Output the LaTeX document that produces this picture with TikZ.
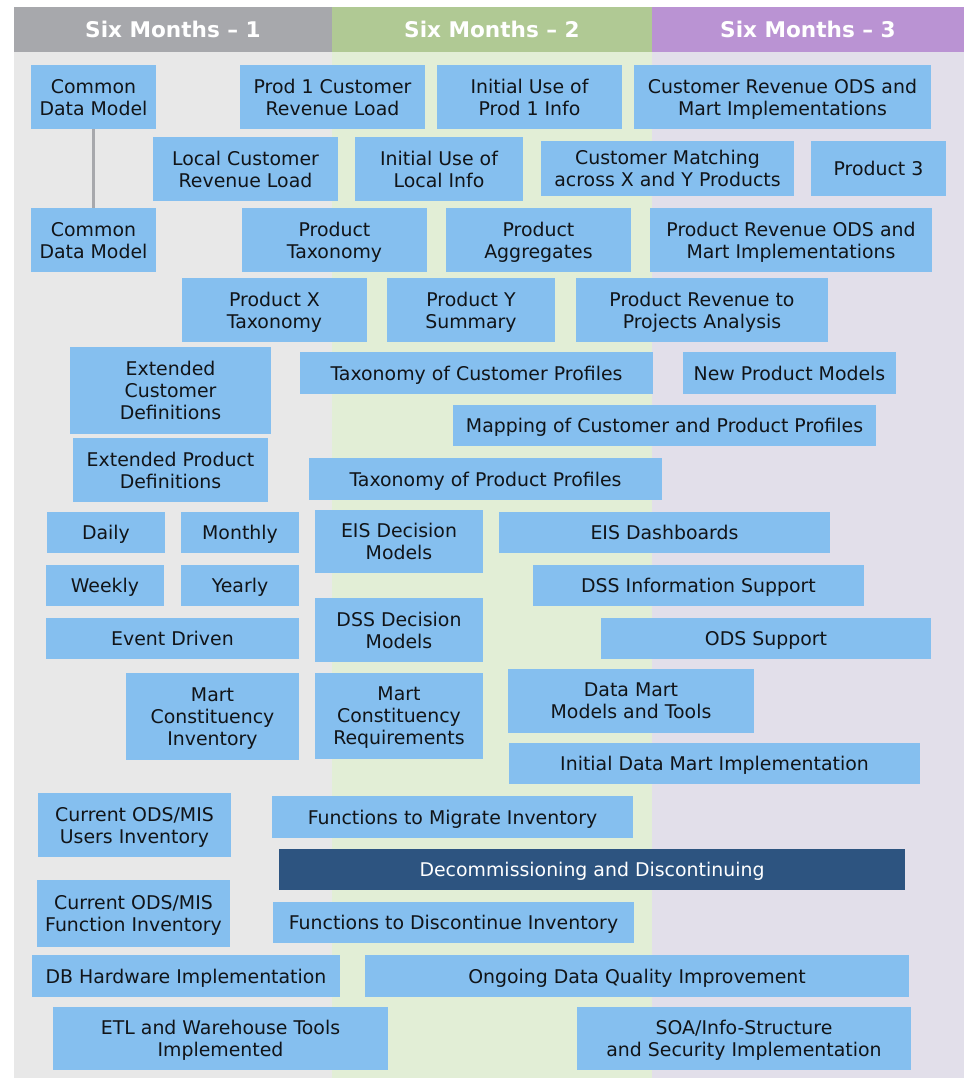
\documentclass[tikz,border=0pt]{standalone}
\usepackage{fontspec}
\setmainfont{DejaVu Sans}
\definecolor{hdrgray}{HTML}{A7A8AC}
\definecolor{hdrgreen}{HTML}{B0C994}
\definecolor{hdrpurple}{HTML}{BA93D3}
\definecolor{bggray}{HTML}{E8E8E8}
\definecolor{bggreen}{HTML}{E2EED6}
\definecolor{bgpurple}{HTML}{E2DFEA}
\definecolor{boxblue}{HTML}{85BFEF}
\definecolor{boxdark}{HTML}{2D5480}
\definecolor{textdark}{HTML}{111418}
\definecolor{linkgray}{HTML}{A7A8AC}
\tikzset{
  box/.style={fill=boxblue, text=textdark, draw=none, inner sep=0pt, outer sep=0pt,
    align=center, text depth=0pt, font=\fontsize{18.9}{22}\selectfont},
  darkbox/.style={box, fill=boxdark, text=white},
  header/.style={draw=none, inner sep=0pt, outer sep=0pt, text=white,
    font=\fontsize{21.6}{25}\selectfont\bfseries},
  link/.style={draw=linkgray, line width=3pt}
}
% box from its corners: name, x1, y1, x2, y2, style, text
\newcommand\taskbox[7]{%
  \node[#6, minimum width={(#4-#2)*1pt}, minimum height={(#5-#3)*1pt}]
    (#1) at ({(#2+#4)/2},{(#3+#5)/2}) {#7};}
\begin{document}
\begin{tikzpicture}[x=1pt,y=-1pt]
\useasboundingbox (0,0) rectangle (964,1079);

% column backgrounds
\fill[bggray]   (14,52)  rectangle (332,1078);
\fill[bggreen]  (332,52) rectangle (652,1078);
\fill[bgpurple] (652,52) rectangle (964,1078);

% column headers
\taskbox{h1}{14}{7}{332}{52}{header, fill=hdrgray}{Six Months -- 1}
\taskbox{h2}{332}{7}{652}{52}{header, fill=hdrgreen}{Six Months -- 2}
\taskbox{h3}{652}{7}{964}{52}{header, fill=hdrpurple}{Six Months -- 3}

% tasks
\taskbox{cdma}{31}{65}{156}{129}{box}{Common\\Data Model}
\taskbox{prodload}{240}{65}{425}{129}{box}{Prod 1 Customer\\Revenue Load}
\taskbox{produse}{437}{65}{622}{129}{box}{Initial Use of\\Prod 1 Info}
\taskbox{custods}{634}{65}{931}{129}{box}{Customer Revenue ODS and\\Mart Implementations}

\taskbox{localload}{153}{137}{338}{201}{box}{Local Customer\\Revenue Load}
\taskbox{localuse}{355}{137}{523}{201}{box}{Initial Use of\\Local Info}
\taskbox{custmatch}{541}{141}{794}{196}{box}{Customer Matching\\across X and Y Products}
\taskbox{prod3}{811}{141}{946}{196}{box}{Product 3}

\taskbox{cdmb}{31}{208}{156}{272}{box}{Common\\Data Model}
\taskbox{prodtax}{242}{208}{427}{272}{box}{Product\\Taxonomy}
\taskbox{prodagg}{446}{208}{631}{272}{box}{Product\\Aggregates}
\taskbox{prodods}{650}{208}{932}{272}{box}{Product Revenue ODS and\\Mart Implementations}

\taskbox{prodx}{182}{278}{367}{342}{box}{Product X\\Taxonomy}
\taskbox{prody}{387}{278}{555}{342}{box}{Product Y\\Summary}
\taskbox{prodproj}{576}{278}{828}{342}{box}{Product Revenue to\\Projects Analysis}

\taskbox{extcust}{70}{347}{271}{434}{box}{Extended\\Customer\\Definitions}
\taskbox{custprof}{300}{352}{653}{394}{box}{Taxonomy of Customer Profiles}
\taskbox{newmodels}{683}{352}{896}{394}{box}{New Product Models}
\taskbox{mapping}{453}{405}{876}{446}{box}{Mapping of Customer and Product Profiles}
\taskbox{extprod}{73}{438}{268}{502}{box}{Extended Product\\Definitions}
\taskbox{prodprof}{309}{458}{662}{500}{box}{Taxonomy of Product Profiles}

\taskbox{daily}{47}{512}{165}{553}{box}{Daily}
\taskbox{monthly}{181}{512}{299}{553}{box}{Monthly}
\taskbox{eisdec}{315}{510}{483}{573}{box}{EIS Decision\\Models}
\taskbox{eisdash}{499}{512}{830}{553}{box}{EIS Dashboards}
\taskbox{weekly}{46}{565}{164}{606}{box}{Weekly}
\taskbox{yearly}{181}{565}{299}{606}{box}{Yearly}
\taskbox{dssinfo}{533}{565}{864}{606}{box}{DSS Information Support}
\taskbox{event}{46}{618}{299}{659}{box}{Event Driven}
\taskbox{dssdec}{315}{598}{483}{662}{box}{DSS Decision\\Models}
\taskbox{odssup}{601}{618}{931}{659}{box}{ODS Support}

\taskbox{martinv}{126}{673}{299}{760}{box}{Mart\\Constituency\\Inventory}
\taskbox{martreq}{315}{673}{483}{759}{box}{Mart\\Constituency\\Requirements}
\taskbox{martmodels}{508}{669}{754}{733}{box}{Data Mart\\Models and Tools}
\taskbox{martimpl}{509}{743}{920}{784}{box}{Initial Data Mart Implementation}

\taskbox{usersinv}{38}{793}{231}{857}{box}{Current ODS/MIS\\Users Inventory}
\taskbox{migrate}{272}{796}{633}{838}{box}{Functions to Migrate Inventory}
\taskbox{decom}{279}{849}{905}{890}{darkbox}{Decommissioning and Discontinuing}
\taskbox{funcinv}{37}{880}{230}{947}{box}{Current ODS/MIS\\Function Inventory}
\taskbox{discont}{273}{902}{634}{943}{box}{Functions to Discontinue Inventory}
\taskbox{dbhw}{32}{955}{340}{997}{box}{DB Hardware Implementation}
\taskbox{quality}{365}{955}{909}{997}{box}{Ongoing Data Quality Improvement}
\taskbox{etl}{53}{1007}{388}{1070}{box}{ETL and Warehouse Tools\\Implemented}
\taskbox{soa}{577}{1007}{911}{1070}{box}{SOA/Info-Structure\\and Security Implementation}

% link between the two data model boxes
\draw[link] (cdma.south) -- (cdmb.north);
\end{tikzpicture}
\end{document}
